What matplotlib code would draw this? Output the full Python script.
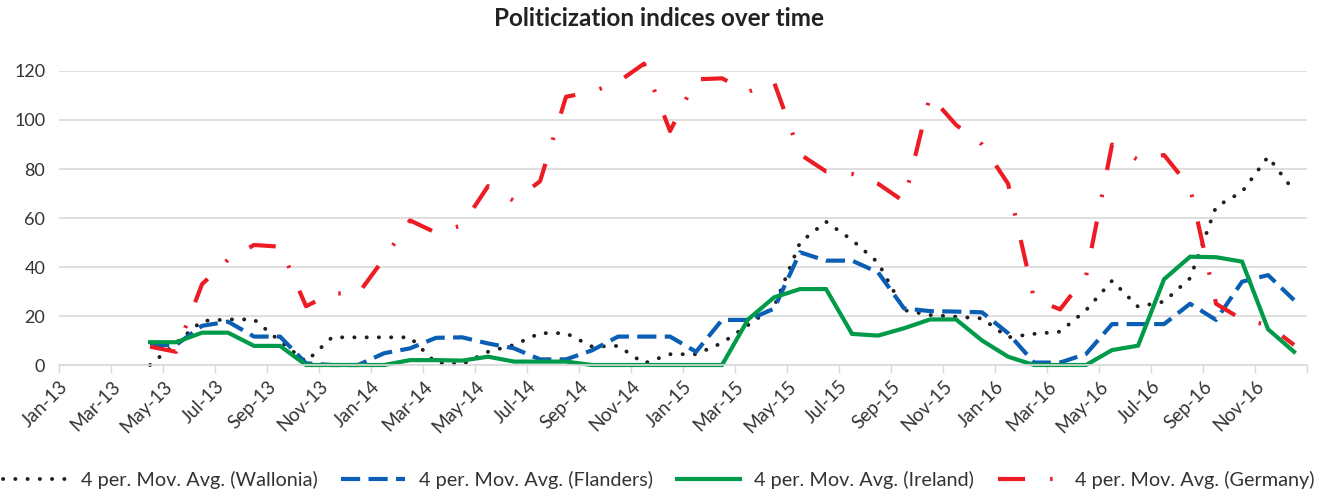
import numpy as np
import matplotlib.pyplot as plt
from matplotlib.lines import Line2D

plt.rcParams['font.family'] = ['Lato', 'DejaVu Sans']

# month labels on the axis (every second month, Jan-13 .. Nov-16)
tick_labels = ['Jan-13', 'Mar-13', 'May-13', 'Jul-13', 'Sep-13', 'Nov-13',
               'Jan-14', 'Mar-14', 'May-14', 'Jul-14', 'Sep-14', 'Nov-14',
               'Jan-15', 'Mar-15', 'May-15', 'Jul-15', 'Sep-15', 'Nov-15',
               'Jan-16', 'Mar-16', 'May-16', 'Jul-16', 'Sep-16', 'Nov-16']

# moving averages start in Apr-13 (month index 3) and run to Dec-16 (47)
first_month = 3
last_month = 47

wallonia = [0, 9, 18, 18.6, 18.6, 9.7, 1.4, 11.3, 11.3, 11.3, 11.3, 0.8, 0.3,
            5.4, 8.2, 13, 13, 7.5, 7.8, 0.7, 4.4, 4.4, 9, 16.3, 23.8, 50, 58.5,
            51, 41.8, 22.4, 20.4, 19.7, 19, 11.3, 12.7, 13.6, 22.4, 34.4, 23.8,
            25.9, 35.4, 64.6, 70.7, 85, 71]
flanders = [8.2, 8.2, 16, 17.7, 11.6, 11.6, 0.7, 0, 0, 4.8, 6.8, 11.1, 11.3,
            8.8, 6.8, 2.3, 2.3, 6, 11.6, 11.6, 11.6, 5.4, 18.4, 18.4, 23, 46,
            42.6, 42.6, 37.8, 23.1, 22, 21.8, 21.5, 13, 1, 1, 4.5, 16.7, 16.7,
            16.7, 25, 18.4, 34, 36.7, 26.5]
ireland = [9.3, 9.3, 13.2, 13.2, 7.8, 7.8, 0, 0, 0, 0, 2, 2, 1.8, 3.4, 1.4,
           1.4, 1.4, 0, 0, 0, 0, 0, 0, 18.6, 27.6, 31, 31, 12.7, 12, 15, 18.6,
           18.6, 10, 3.4, 0, 0, 0, 6.1, 7.9, 35, 44.2, 44, 42.2, 14.6, 5.4]
germany = [7.5, 5.4, 33, 43, 49, 48.3, 24, 29.3, 29, 43.5, 59, 54, 57, 73, 67,
           75, 109.5, 111.5, 115.5, 123, 95.5, 116.6, 117, 111.5, 115.4, 86, 79,
           78, 74, 66.7, 110, 98, 90, 74, 27, 22.7, 36.3, 90, 83.7, 85.7, 72.5,
           25, 18.6, 16.3, 8.2]

series_names = ['4 per. Mov. Avg. (Wallonia)', '4 per. Mov. Avg. (Flanders)',
                '4 per. Mov. Avg. (Ireland)', '4 per. Mov. Avg. (Germany)']


def main():
    months = np.arange(first_month, last_month + 1) + 0.5

    fig = plt.figure(figsize=(13.18, 4.92), dpi=100)
    ax = fig.add_axes([0.0448, 0.2581, 0.9469, 0.5976])

    styles = [
        dict(color='#231f20', lw=2.8, linestyle=(0, (0.05, 3.1)),
             dash_capstyle='round'),
        dict(color='#0a5fb4', lw=3.0, linestyle=(0, (4.6, 2.0))),
        dict(color='#009a49', lw=3.0, linestyle='-'),
        dict(color='#ed1c24', lw=3.0, linestyle=(0, (6.5, 6.0, 0.6, 6.0))),
    ]
    data = [wallonia, flanders, ireland, germany]

    handles = []
    for vals, st, name in zip(data, styles, series_names):
        ax.plot(months, vals, clip_on=False, label=name,
                solid_joinstyle='miter', **st)
        handles.append(Line2D([], [], **st))

    ax.set_xlim(0, 48)
    ax.set_ylim(0, 120)
    ax.set_yticks(np.arange(0, 121, 20))
    ax.set_xticks(np.arange(0, 49, 2))
    ax.set_xticklabels(tick_labels + [''], rotation=45, ha='right',
                       rotation_mode='anchor', fontsize=13.5, color='#333333')
    ax.tick_params(axis='x', length=6, width=1, color='#d9d9d9', pad=3)
    ax.tick_params(axis='y', length=0, labelsize=13, labelcolor='#333333',
                   pad=10)

    ax.grid(axis='y', color='#d9d9d9', lw=1.2)
    ax.set_axisbelow(True)
    for s in ['top', 'right', 'left']:
        ax.spines[s].set_visible(False)
    ax.spines['bottom'].set_color('#d9d9d9')
    ax.spines['bottom'].set_linewidth(1.2)

    fig.text(0.5, 0.962, 'Politicization indices over time', ha='center',
             va='center', fontsize=17.5, fontweight='bold', color='#222222')

    fig.legend(handles, series_names, loc='center', ncol=4,
               bbox_to_anchor=(0.5, 0.025), frameon=False, fontsize=14.3,
               handlelength=3.2, handletextpad=0.7, columnspacing=1.2,
               labelcolor='#333333')

    plt.savefig('out.png', dpi=100)
    plt.close()


if __name__ == '__main__':
    main()
